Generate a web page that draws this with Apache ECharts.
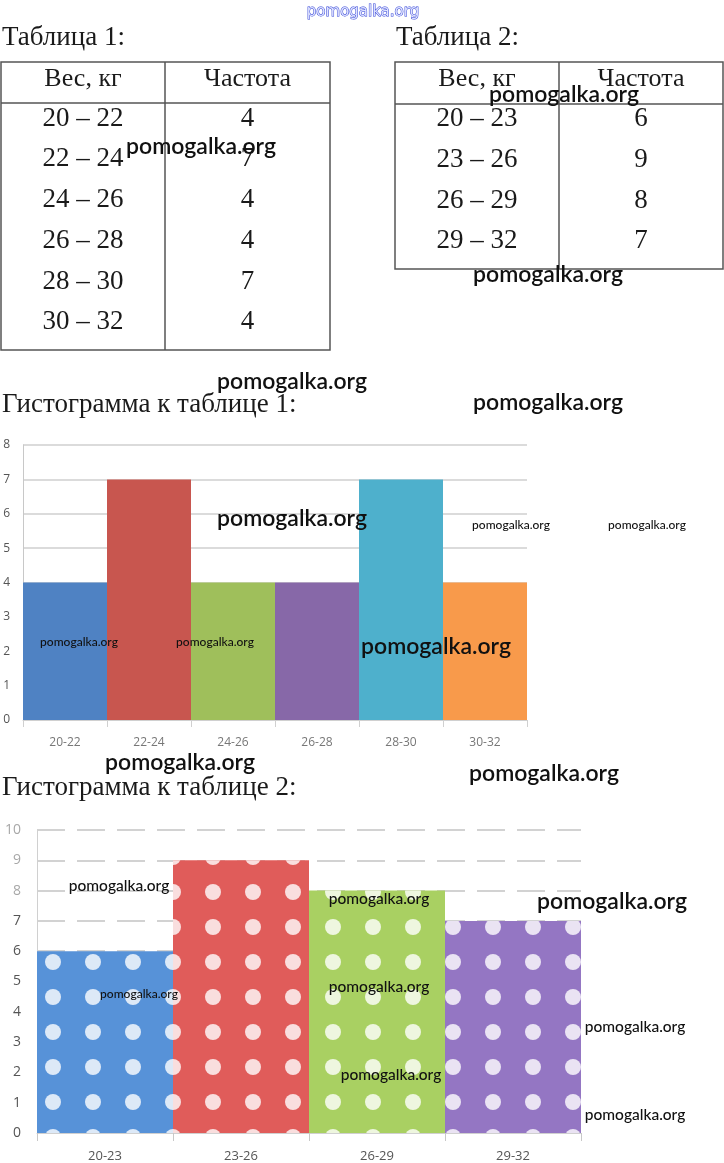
<!DOCTYPE html>
<html><head><meta charset="utf-8">
<script src="https://cdn.jsdelivr.net/npm/echarts@6/dist/echarts.min.js"></script>
<style>html,body{margin:0;padding:0;background:#fff}
#c{position:absolute;left:0;top:0;width:724px;height:1163px;z-index:2}
#c2{position:absolute;left:5px;top:744px;width:719px;height:419px;z-index:1}</style>
</head><body><div id="c2"></div><div id="c"></div>
<script>
// ---- data ----
var table1Ranges = ['20 – 22','22 – 24','24 – 26','26 – 28','28 – 30','30 – 32'];
var table1Freq = [4,7,4,4,7,4];
var table2Ranges = ['20 – 23','23 – 26','26 – 29','29 – 32'];
var table2Freq = [6,9,8,7];
var hist1Cats = ['20-22','22-24','24-26','26-28','28-30','30-32'];
var hist1Vals = [4,7,4,4,7,4];
var hist2Cats = ['20-23','23-26','26-29','29-32'];
var hist2Vals = [6,9,8,7];
var tableHeaders = ['Вес, кг','Частота'];
var titles = ['Таблица 1:','Таблица 2:','Гистограмма к таблице 1:','Гистограмма к таблице 2:'];

var hist1Colors = ['#4f82c3','#c8564f','#9fbf5b','#8768a8','#4eb0cc','#f89a4b'];
var hist2Colors = ['#5792d8','#e05c5a','#a9d062','#9476c3'];

var serif = 'Liberation Serif';
var g = [];
function txt(x,y,s,size,align){
  g.push({type:'text',z:10,style:{x:x,y:y,text:s,font:size+'px "'+serif+'"',fill:'#1a1a1a',align:align||'left',verticalAlign:'middle'}});
}
function line(x1,y1,x2,y2){
  g.push({type:'line',z:5,shape:{x1:x1,y1:y1,x2:x2,y2:y2},style:{stroke:'#555',lineWidth:1.5}});
}
function table(x0,x1,xd,y0,headY,rowYs,ranges,freq){
  var y1 = rowYs[rowYs.length-1] + 29;
  g.push({type:'rect',z:5,shape:{x:x0,y:y0,width:x1-x0,height:y1-y0},style:{fill:'none',stroke:'#555',lineWidth:1.5}});
  line(x0,headY,x1,headY);
  line(xd,y0,xd,y1);
  var c1=(x0+xd)/2, c2=(xd+x1)/2;
  txt(c1,y0+17,tableHeaders[0],26,'center');
  txt(c2,y0+17,tableHeaders[1],26,'center');
  for(var i=0;i<ranges.length;i++){
    txt(c1,rowYs[i]+1,ranges[i],27,'center');
    txt(c2,rowYs[i]+1,String(freq[i]),27,'center');
  }
}
txt(2,38,titles[0],27);
txt(396,38,titles[1],27);
table(1,330,165,62,103,[118,158,199,240,281,321],table1Ranges,table1Freq);
table(395,723,559,62,104,[118,159,200,240],table2Ranges,table2Freq);
txt(2,405,titles[2],27);
txt(2,788,titles[3],27);

// watermarks
var wm = [
  [363,12,15,'c',1],[201,147,23],[564,95,23],[548,275,23],[292,382,23],[548,403,23],[292,519,23],
  [511,525,12],[647,525,12],[79,642,12],[215,642,12],[436,647,23],[180,763,23],[544,774,23],
  [119,886,15.5],[379,899,15.5],[612,902,23],[139,994,12],[379,987,15.5],[635,1027,15.5],[391,1075,15.5],[635,1115,15.5]
];
wm.forEach(function(w){
  var st = {x:w[0],y:w[1],text:'pomogalka.org',align:'center',verticalAlign:'middle',
    font:(w[2]>=20?'600 ':'500 ')+w[2]+'px Lato',fill:'#111'};
  if(w[4]){st.font='400 15px "DejaVu Sans"';st.fill='#dfe3ff';st.stroke='#3343d6';st.lineWidth=1;}
  g.push({type:'text',z:50,style:st});
});

var decal2 = {symbol:'circle',symbolSize:1,dashArrayX:[16,24],dashArrayY:[16,19],color:'rgba(255,255,255,0.8)'};

var option1 = {
  animation:false,
  backgroundColor:'transparent',
  graphic:g,
  grid:[{left:23,top:445,width:504,height:275,outerBoundsMode:'none',containLabel:false}],
  xAxis:[
    {type:'category',data:hist1Cats,
      axisLine:{lineStyle:{color:'#d0d0d0'}},
      axisTick:{show:true,length:7,lineStyle:{color:'#d0d0d0'}},
      axisLabel:{color:'#777',fontSize:12,margin:17,fontFamily:'Open Sans'}}
  ],
  yAxis:[
    {type:'value',min:0,max:8,interval:1,
      axisLine:{show:true,lineStyle:{color:'#c8c8c8'}},
      axisTick:{show:false},
      axisLabel:{color:'#555',fontSize:12,margin:13,fontFamily:'Open Sans'},
      splitLine:{lineStyle:{color:'#cfcfcf',width:1.5}}}
  ],
  series:[
    {type:'bar',barCategoryGap:'0%',
      data:hist1Vals.map(function(v,i){return {value:v,itemStyle:{color:hist1Colors[i]}};})}
  ]
};
var option2 = {
  animation:false,
  backgroundColor:'transparent',
  grid:[{left:32,top:86,width:544,height:303,outerBoundsMode:'none',containLabel:false}],
  xAxis:[
    {type:'category',data:hist2Cats,
      axisLine:{lineStyle:{color:'#d0d0d0'}},
      axisTick:{show:true,length:8,lineStyle:{color:'#c8c8c8'}},
      axisLabel:{color:'#555',fontSize:13,margin:17,fontFamily:'Open Sans'}}
  ],
  yAxis:[
    {type:'value',min:0,max:10,interval:1,
      axisLine:{show:true,lineStyle:{color:'#d0d0d0'}},
      axisTick:{show:false},
      axisLabel:{fontSize:14,margin:16,fontFamily:'Open Sans',
        color:function(v){return (v>=8||v===2||v===3)?'#a8a8a8':'#555';}},
      splitLine:{lineStyle:{color:'#c4c4c4',width:1.5,type:[28,12]}}}
  ],
  series:[
    {type:'bar',barCategoryGap:'0%',
      data:hist2Vals.map(function(v,i){return {value:v,itemStyle:{color:hist2Colors[i],decal:decal2}};})}
  ]
};
var chart2 = echarts.init(document.getElementById('c2'));
chart2.setOption(option2);
var chart = echarts.init(document.getElementById('c'));
chart.setOption(option1);
</script></body></html>
